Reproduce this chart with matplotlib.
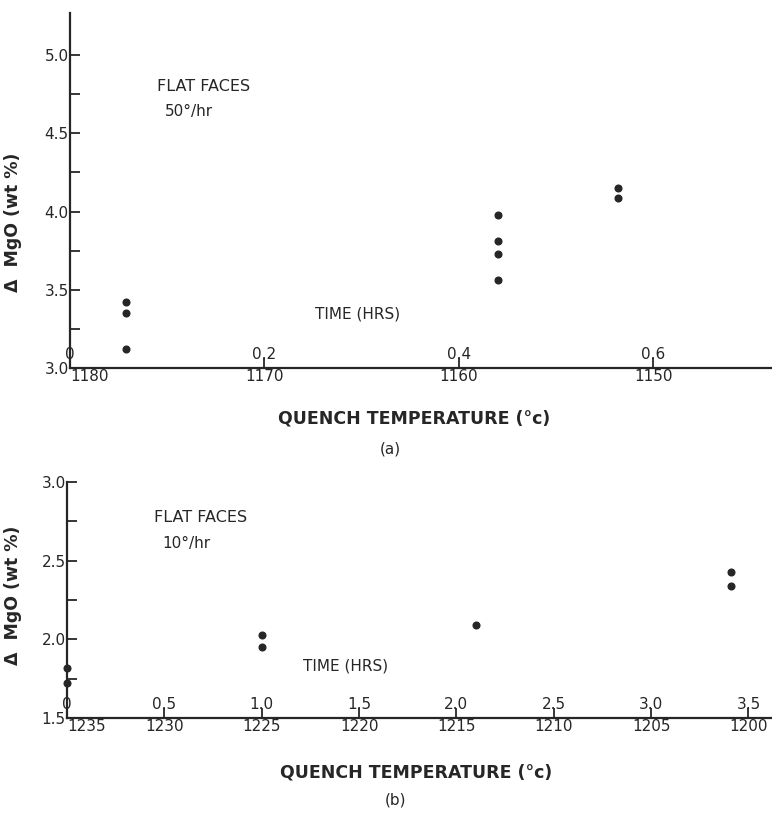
import numpy as np
import matplotlib.pyplot as plt

# panel (a): flat faces, cooled at 50 deg/hr
temp_a = [1177.1, 1177.1, 1177.1, 1158.0, 1158.0, 1158.0, 1158.0, 1151.8, 1151.8]
mgo_a = [3.42, 3.35, 3.12, 3.98, 3.81, 3.73, 3.56, 4.15, 4.09]
temp_ticks_a = [1180, 1170, 1160, 1150]
time_labels_a = ['0', '0.2', '0.4', '0.6']
yticks_a = [3.0, 3.5, 4.0, 4.5, 5.0]
yminor_a = [3.25, 3.75, 4.25, 4.75]

# panel (b): flat faces, cooled at 10 deg/hr
temp_b = [1235.0, 1235.0, 1225.0, 1225.0, 1214.0, 1200.9, 1200.9]
mgo_b = [1.82, 1.72, 2.03, 1.95, 2.09, 2.43, 2.34]
temp_ticks_b = [1235, 1230, 1225, 1220, 1215, 1210, 1205, 1200]
time_labels_b = ['0', '0.5', '1.0', '1.5', '2.0', '2.5', '3.0', '3.5']
yticks_b = [1.5, 2.0, 2.5, 3.0]
yminor_b = [1.75, 2.25, 2.75]

ink = '#262626'
plt.rcParams['font.family'] = 'DejaVu Sans'
plt.rcParams['text.color'] = ink

fig = plt.figure(figsize=(7.72, 8.14), dpi=100)


def style_panel(ax, temps, vals, tticks, tlabels, yt, ym, xlim, ylim, rate):
    ax.plot(temps, vals, 'o', color=ink, markersize=4.8, clip_on=False)
    ax.set_xlim(xlim)
    ax.set_ylim(ylim)
    for s in ['top', 'right']:
        ax.spines[s].set_visible(False)
    for s in ['left', 'bottom']:
        ax.spines[s].set_linewidth(1.6)
        ax.spines[s].set_color(ink)
    ax.set_xticks(tticks)
    ax.set_xticklabels([str(t) for t in tticks])
    ax.set_yticks(yt)
    ax.set_yticklabels(['%.1f' % v for v in yt])
    ax.set_yticks(ym, minor=True)
    ax.tick_params(direction='in', length=7, width=1.3, color=ink,
                   labelsize=11, labelcolor=ink, pad=1)
    ax.tick_params(axis='y', which='minor', direction='in', length=7,
                   width=1.3, color=ink)
    ax.get_xticklabels()[0].set_ha('left')
    # time scale written just above the temperature axis
    for t, lab in zip(tticks, tlabels):
        ax.annotate(lab, xy=(t, 0), xycoords=('data', 'axes fraction'),
                    xytext=(0, 4), textcoords='offset points',
                    ha='center', va='bottom', fontsize=11, color=ink)
    ax.set_ylabel('\u0394  MgO (wt %)', fontsize=12.5, fontweight='bold',
                  color=ink)
    ax.set_xlabel('QUENCH TEMPERATURE (\u00b0c)', fontsize=12.5,
                  fontweight='bold', color=ink)
    ax.text(0.19, 0.78 if rate == 50 else 0.83, 'FLAT FACES',
            transform=ax.transAxes, ha='center', fontsize=11.5, color=ink)
    ax.text(0.17, 0.71 if rate == 50 else 0.72, '%d\u00b0/hr' % rate,
            transform=ax.transAxes, ha='center', fontsize=11, color=ink)


ax1 = fig.add_axes([0.0907, 0.548, 0.909, 0.436])
style_panel(ax1, temp_a, mgo_a, temp_ticks_a, time_labels_a, yticks_a,
            yminor_a, (1180, 1143.9), (3.0, 5.27), 50)
ax1.yaxis.set_label_coords(-0.068, 0.41)
ax1.xaxis.set_label_coords(0.49, -0.118)
ax1.text(0.41, 0.14, 'TIME (HRS)', transform=ax1.transAxes, ha='center',
         fontsize=11, color=ink)
fig.text(0.505, 0.4484, '(a)', ha='center', va='center', fontsize=11,
         color=ink)

ax2 = fig.add_axes([0.0868, 0.118, 0.913, 0.29])
style_panel(ax2, temp_b, mgo_b, temp_ticks_b, time_labels_b, yticks_b,
            yminor_b, (1235, 1198.8), (1.5, 3.0), 10)
ax2.yaxis.set_label_coords(-0.064, 0.52)
ax2.xaxis.set_label_coords(0.495, -0.195)
ax2.text(0.395, 0.2, 'TIME (HRS)', transform=ax2.transAxes, ha='center',
         fontsize=11, color=ink)
fig.text(0.512, 0.017, '(b)', ha='center', va='center', fontsize=11,
         color=ink)

fig.savefig('out.png', dpi=100, facecolor='white')
